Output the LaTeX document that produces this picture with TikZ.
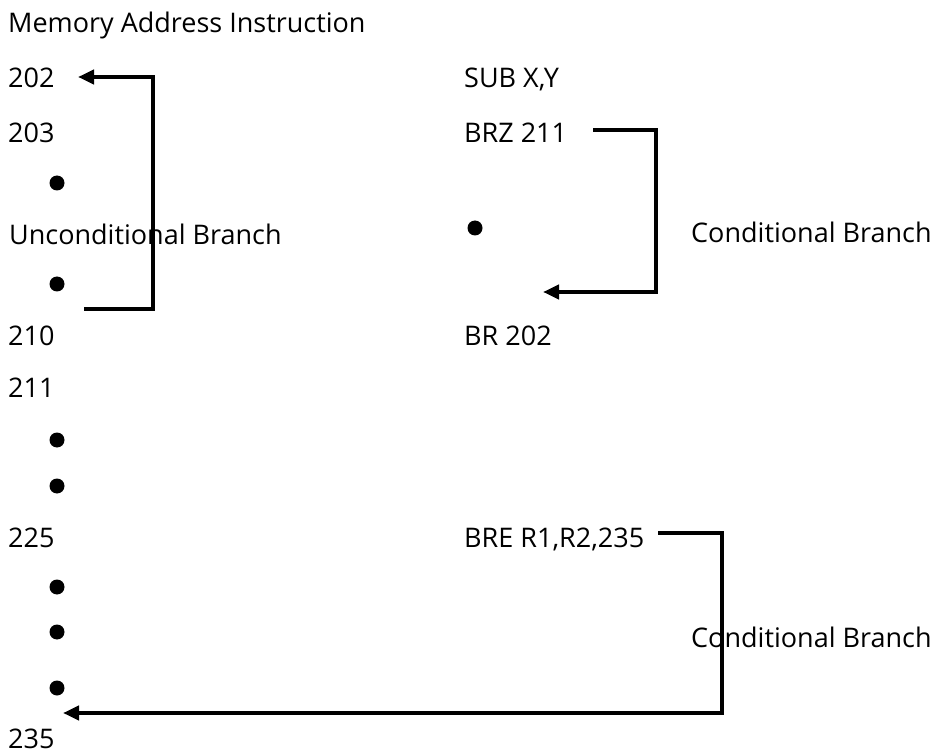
\documentclass[tikz,border=0pt]{standalone}
\usepackage{fontspec}
\setmainfont{Open Sans}
\usetikzlibrary{arrows.meta}
\begin{document}
\begin{tikzpicture}[x=1pt,y=-1pt,
  lbl/.style={anchor=base west,inner sep=0pt,font=\fontsize{27}{31}\selectfont},
  dot/.style={circle,fill=black,inner sep=0pt,minimum size=15pt},
  conn/.style={line width=4pt},
  arr/.style={conn,-{Triangle[length=16pt,width=14pt]}}]
\useasboundingbox (0,0) rectangle (938,754);
% texts
\node[lbl] (title) at (8,33) {Memory Address Instruction};
\node[lbl] (a202) at (8,88) {202};
\node[lbl] (sub) at (464,88) {SUB X,Y};
\node[lbl] (a203) at (8,143) {203};
\node[lbl] (brz) at (464,143) {BRZ 211};
\node[dot] (d1) at (57,183) {};
\node[lbl] (unc) at (9,245) {Unconditional Branch};
\node[dot] (d2) at (475,228) {};
\node[lbl] (cond1) at (691,243) {Conditional Branch};
\node[dot] (d3) at (57,284) {};
\node[lbl] (a210) at (8,345) {210};
\node[lbl] (br) at (464,345) {BR 202};
\node[lbl] (a211) at (8,397) {211};
\node[dot] (d4) at (57,440) {};
\node[dot] (d5) at (57,486) {};
\node[lbl] (a225) at (8,547) {225};
\node[lbl] (bre) at (464,547) {BRE R1,R2,235};
\node[dot] (d6) at (57,587) {};
\node[dot] (d7) at (57,632) {};
\node[lbl] (cond2) at (691,647) {Conditional Branch};
\node[dot] (d8) at (57,688) {};
\node[lbl] (a235) at (8,748) {235};
% connector end points
\coordinate (u0) at (84,309);
\coordinate (u1) at (153,309);
\coordinate (u2) at (153,77);
\coordinate (u3) at (78,77);
\coordinate (c0) at (593,130);
\coordinate (c1) at (656,130);
\coordinate (c2) at (656,292);
\coordinate (c3) at (543,292);
\coordinate (e0) at (658,533);
\coordinate (e1) at (722,533);
\coordinate (e2) at (722,713);
\coordinate (e3) at (63,713);
% connectors
\draw[arr] (u0) -- (u1) -- (u2) -- (u3);
\draw[arr] (c0) -- (c1) -- (c2) -- (c3);
\draw[arr] (e0) -- (e1) -- (e2) -- (e3);
\end{tikzpicture}
\end{document}
